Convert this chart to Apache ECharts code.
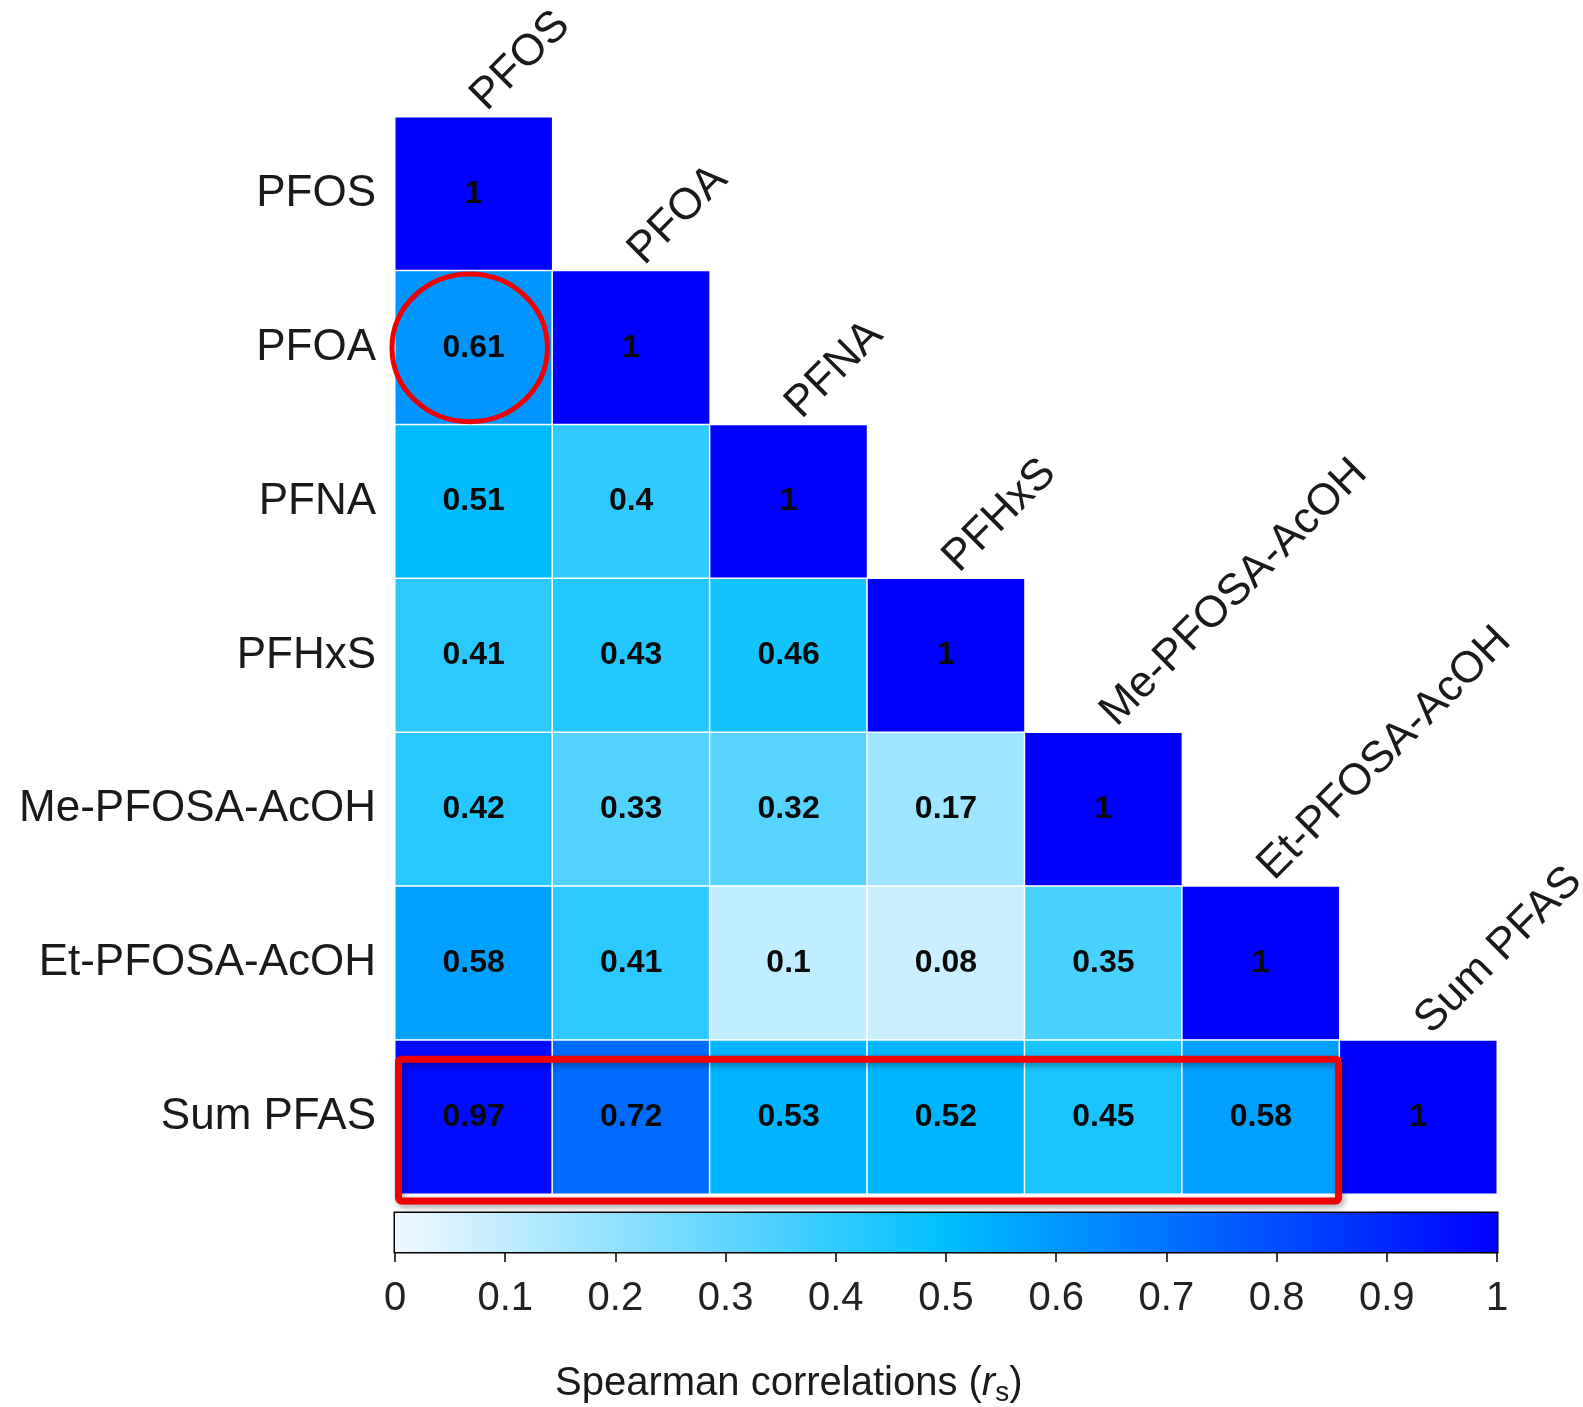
<!DOCTYPE html>
<html>
<head>
<meta charset="utf-8">
<script src="https://cdn.jsdelivr.net/npm/echarts@6/dist/echarts.min.js"></script>
<style>
  html, body { margin: 0; padding: 0; background: #ffffff; }
  #chart { width: 1583px; height: 1407px; }
</style>
</head>
<body>
<div id="chart"></div>
<script>
// Compounds, in matrix order (rows top→bottom, columns left→right)
const compounds = ['PFOS', 'PFOA', 'PFNA', 'PFHxS', 'Me-PFOSA-AcOH', 'Et-PFOSA-AcOH', 'Sum PFAS'];

// Lower-triangle Spearman coefficients, one array per row
const rowPFOS  = [1];
const rowPFOA  = [0.61, 1];
const rowPFNA  = [0.51, 0.4, 1];
const rowPFHxS = [0.41, 0.43, 0.46, 1];
const rowMe    = [0.42, 0.33, 0.32, 0.17, 1];
const rowEt    = [0.58, 0.41, 0.1, 0.08, 0.35, 1];
const rowSum   = [0.97, 0.72, 0.53, 0.52, 0.45, 0.58, 1];
const correlationRows = [rowPFOS, rowPFOA, rowPFNA, rowPFHxS, rowMe, rowEt, rowSum];

// Colour scale (value → colour) and its tick labels
const colorStops = [[0, '#f0f8ff'], [0.5, '#00bfff'], [1, '#0000ff']];
const scaleTicks = [0, 0.1, 0.2, 0.3, 0.4, 0.5, 0.6, 0.7, 0.8, 0.9, 1];

// Highlighted pair (column, row) and highlighted row span [fromCol, toCol, row]
const circledCell = [0, 1];
const boxedSpan = [0, 5, 6];

const FONT = '"Liberation Sans", Arial, Helvetica, sans-serif';
const RED = '#f00000';

const heatData = [];
correlationRows.forEach((row, r) => row.forEach((v, c) => heatData.push([c, r, v])));

const chart = echarts.init(document.getElementById('chart'), null, { renderer: 'canvas' });

chart.setOption({
  backgroundColor: '#ffffff',
  animation: false,
  grid: [
    { left: 395, top: 117, width: 1102, height: 1077, outerBoundsMode: 'none', containLabel: false },
    { left: 395, top: 1213, width: 1102, height: 39, outerBoundsMode: 'none', containLabel: false,
      show: true, borderColor: '#000000', borderWidth: 3, backgroundColor: 'transparent' }
  ],
  xAxis: [
    { type: 'category', gridIndex: 0, data: compounds, show: false },
    { type: 'value', gridIndex: 1, min: 0, max: 1, interval: 0.1,
      axisLine: { show: true, lineStyle: { color: '#000000', width: 2 } },
      axisTick: { show: true, length: 10, customValues: scaleTicks, lineStyle: { color: '#000000', width: 1.5 } },
      axisLabel: { show: true, customValues: scaleTicks, margin: 27, fontSize: 40, color: '#222222', fontFamily: FONT,
        formatter: v => String(+v.toFixed(1)) },
      splitLine: { show: false } }
  ],
  yAxis: [
    { type: 'category', gridIndex: 0, data: compounds, inverse: true,
      axisLine: { show: false }, axisTick: { show: false },
      axisLabel: { fontSize: 44, color: '#1a1a1a', margin: 19, fontFamily: FONT } },
    { type: 'value', gridIndex: 1, min: 0, max: 1, show: false }
  ],
  visualMap: {
    show: false, type: 'continuous', min: 0, max: 1, dimension: 2, seriesIndex: 0,
    inRange: { color: colorStops.map(s => s[1]) }
  },
  series: [
    {
      type: 'heatmap',
      xAxisIndex: 0, yAxisIndex: 0,
      data: heatData,
      itemStyle: { borderColor: '#ffffff', borderWidth: 1.5 },
      label: {
        show: true, fontSize: 32, fontWeight: 'bold', color: '#0a0a0a', fontFamily: FONT,
        formatter: p => String(p.value[2])
      },
      emphasis: { disabled: true }
    },
    {
      // diagonal column headers
      type: 'custom',
      xAxisIndex: 0, yAxisIndex: 0,
      data: compounds.map((n, i) => [i, i]),
      silent: true,
      renderItem: (params, api) => {
        const c = api.coord([api.value(0), api.value(1)]);
        const s = api.size([1, 1]);
        return {
          type: 'text',
          x: c[0] + 20, y: c[1] - s[1] / 2 + 2,
          rotation: Math.PI / 4,
          style: {
            text: compounds[params.dataIndex],
            fontSize: 44, fontFamily: FONT, fill: '#1a1a1a',
            align: 'left', verticalAlign: 'bottom'
          }
        };
      }
    },
    {
      // ring around the highlighted pair
      type: 'custom',
      xAxisIndex: 0, yAxisIndex: 0,
      data: [circledCell],
      silent: true,
      z: 5,
      renderItem: (params, api) => {
        const c = api.coord([api.value(0), api.value(1)]);
        const s = api.size([1, 1]);
        return {
          type: 'ellipse',
          shape: { cx: c[0] - 4, cy: c[1], rx: s[0] * 0.5 - 1, ry: s[1] * 0.48 },
          style: { fill: 'none', stroke: RED, lineWidth: 5 }
        };
      }
    },
    {
      // box around the Sum PFAS row
      type: 'custom',
      xAxisIndex: 0, yAxisIndex: 0,
      data: [boxedSpan],
      encode: { x: [0, 1], y: 2 },
      silent: true,
      z: 5,
      renderItem: (params, api) => {
        const a = api.coord([api.value(0), api.value(2)]);
        const b = api.coord([api.value(1), api.value(2)]);
        const s = api.size([1, 1]);
        const x0 = a[0] - s[0] / 2 + 3.5;
        const x1 = b[0] + s[0] / 2 - 1;
        const y0 = a[1] - s[1] / 2 + 19;
        const y1 = a[1] + s[1] / 2 + 7;
        return {
          type: 'rect',
          shape: { x: x0, y: y0, width: x1 - x0, height: y1 - y0, r: 3 },
          style: {
            fill: 'none', stroke: RED, lineWidth: 7,
            shadowBlur: 6, shadowColor: 'rgba(0,0,0,0.35)', shadowOffsetX: 2, shadowOffsetY: 3
          }
        };
      }
    },
    {
      // colour bar, one gradient segment between consecutive stops
      type: 'custom',
      xAxisIndex: 1, yAxisIndex: 1,
      data: colorStops.slice(1).map((s, i) => [colorStops[i][0], s[0]]),
      silent: true,
      z: 1,
      renderItem: (params, api) => {
        const i = params.dataIndex;
        const p0 = api.coord([api.value(0), 1]);
        const p1 = api.coord([api.value(1), 0]);
        return {
          type: 'rect',
          shape: { x: p0[0], y: p0[1], width: p1[0] - p0[0] + 0.5, height: p1[1] - p0[1] },
          style: {
            fill: new echarts.graphic.LinearGradient(0, 0, 1, 0, [
              { offset: 0, color: colorStops[i][1] },
              { offset: 1, color: colorStops[i + 1][1] }
            ])
          }
        };
      }
    }
  ],
  graphic: [
    {
      type: 'text',
      left: 555, top: 1361,
      style: {
        text: 'Spearman correlations ({r|r}{s|s})',
        fontSize: 40, fontFamily: FONT, fill: '#1a1a1a', lineHeight: 46,
        rich: {
          r: { fontSize: 40, fontStyle: 'italic', fontFamily: FONT, fill: '#1a1a1a', lineHeight: 46 },
          s: { fontSize: 28, fontFamily: FONT, fill: '#1a1a1a', lineHeight: 20, verticalAlign: 'bottom' }
        }
      }
    }
  ]
});
</script>
</body>
</html>
